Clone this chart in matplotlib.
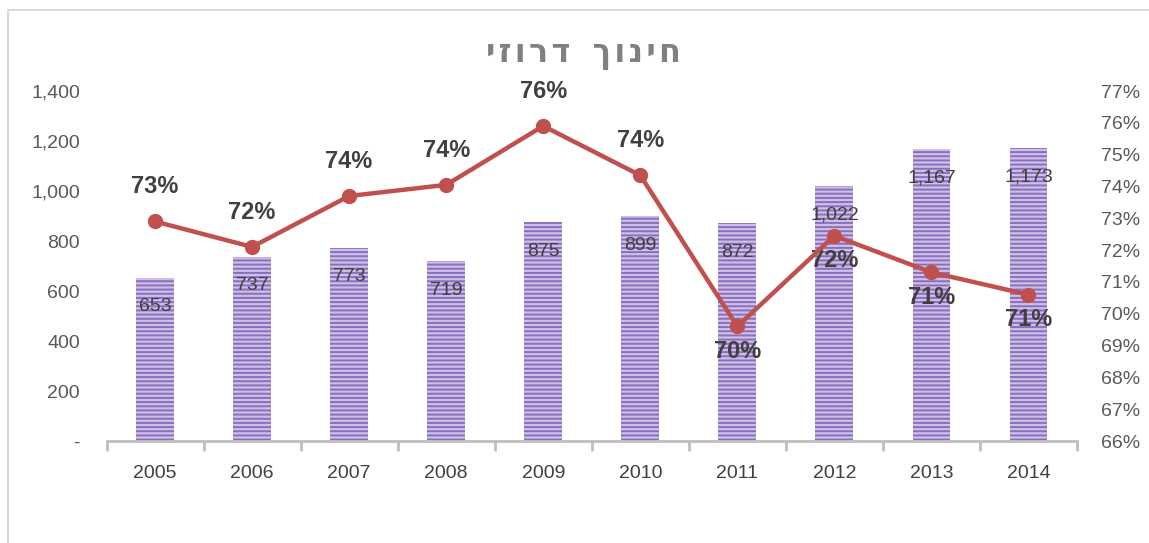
import matplotlib
matplotlib.use("Agg")
import matplotlib.pyplot as plt
from matplotlib.ticker import FuncFormatter, FixedLocator
from matplotlib.patches import Rectangle
import numpy as np

years = ["2005", "2006", "2007", "2008", "2009", "2010", "2011", "2012", "2013", "2014"]
counts = [653, 737, 773, 719, 875, 899, 872, 1022, 1167, 1173]
rates = [72.9, 72.1, 73.7, 74.05, 75.9, 74.35, 69.6, 72.45, 71.3, 70.6]
rate_labels = ["73%", "72%", "74%", "74%", "76%", "74%", "70%", "72%", "71%", "71%"]
label_above = [True, True, True, True, True, True, False, False, False, False]
title = "חינוך דרוזי"

plt.rcParams['font.family'] = ['Liberation Sans', 'DejaVu Sans']
plt.rcParams['hatch.linewidth'] = 1.4

fig = plt.figure(figsize=(11.49, 5.43), dpi=100)
ax = fig.add_axes([106.5/1149, 1-441/543, (1077-106.5)/1149, 350/543])
ax2 = ax.twinx()

x = np.arange(len(years))
bars = ax.bar(x, counts, width=0.39, color="#cdbfe5", edgecolor="#8a6ebd",
              linewidth=0, hatch="----", zorder=2)
for xi, v in zip(x, counts):
    ax.annotate(f"{v:,}", (xi, v), xytext=(0, -21), textcoords="offset points",
                ha="center", va="center", fontsize=14, color="#404040", zorder=3)

ax.set_xlim(-0.5, len(years) - 0.5)
ax.set_ylim(0, 1400)
ax.set_yticks(np.arange(0, 1401, 200))
ax.yaxis.set_major_formatter(FuncFormatter(lambda v, p: "-" if v == 0 else f"{int(v):,}"))
ax.set_xticks(x)
ax.set_xticklabels(years)
ax.xaxis.set_minor_locator(FixedLocator(np.arange(-0.5, len(years), 1.0)))
ax.tick_params(axis="x", which="major", length=0, pad=17, labelsize=14, colors="#404040")
ax.tick_params(axis="x", which="minor", length=7, width=2, color="#bfbfbf")
ax.tick_params(axis="y", length=0, pad=19, labelsize=14, colors="#595959")

ax2.plot(x, rates, color="#c0504d", linewidth=3.2, marker="o", markersize=10, zorder=4)
for xi, r, lab, up in zip(x, rates, rate_labels, label_above):
    ax2.annotate(lab, (xi, r), xytext=(0, 25 if up else -18), textcoords="offset points",
                 ha="center", va="center", fontsize=17, fontweight="bold", color="#404040")
ax2.set_ylim(66, 77)
ax2.set_yticks(np.arange(66, 78, 1))
ax2.yaxis.set_major_formatter(FuncFormatter(lambda v, p: f"{int(round(v))}%"))
ax2.tick_params(axis="y", length=0, pad=17, labelsize=14, colors="#595959")

for a in (ax, ax2):
    for s in ("top", "left", "right", "bottom"):
        a.spines[s].set_visible(False)
ax.spines["bottom"].set_visible(True)
ax.spines["bottom"].set_color("#bfbfbf")
ax.spines["bottom"].set_linewidth(2)

ax2.set_zorder(ax.get_zorder() + 1)
ax.patch.set_visible(False)

disp = title[::-1]
spaced = "\u200a".join(list(disp)).replace("\u200a \u200a", "  ")
fig.text(583/1149, 1-55/543, spaced, ha="center", va="center", fontsize=23,
         fontweight="bold", color="#808080", family=['DejaVu Sans'])

fig.patches.append(Rectangle((8/1149, -0.1), 1.2, 1 - 9.5/543 + 0.1, transform=fig.transFigure,
                             fill=False, edgecolor="#d9d9d9", linewidth=1.5))

fig.savefig("out.png", dpi=100)
